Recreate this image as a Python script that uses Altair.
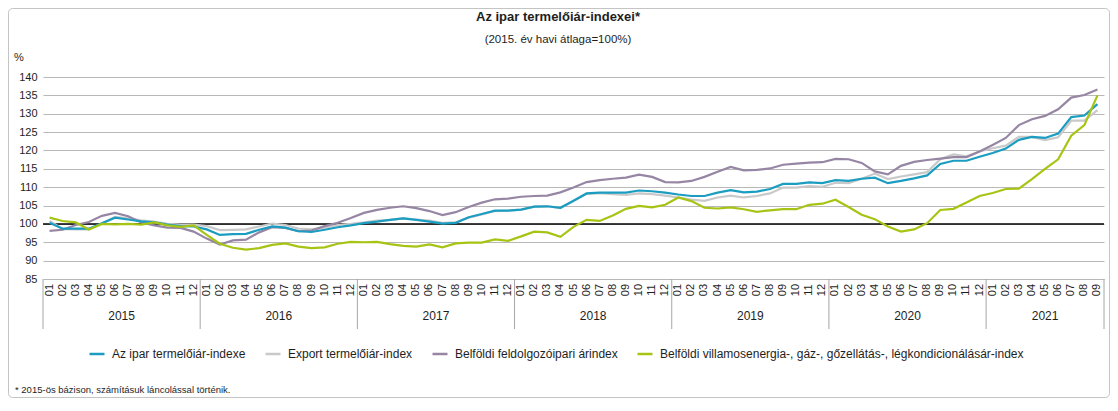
import altair as alt
import pandas as pd

years = ["2015", "2016", "2017", "2018", "2019", "2020", "2021"]
months_per_year = [12, 12, 12, 12, 12, 12, 9]
month_labels = ["01", "02", "03", "04", "05", "06", "07", "08", "09", "10", "11", "12"]

series_names = [
    "Az ipar termelőiár-indexe",
    "Export termelőiár-index",
    "Belföldi feldolgozóipari árindex",
    "Belföldi villamosenergia-, gáz-, gőzellátás-, légkondicionálásár-index",
]
colors = ["#1b9cc1", "#c9c9c9", "#9686a4", "#a6c414"]

ipar = [
    100.3, 98.7, 98.7, 98.7, 100.2, 101.7, 101.2, 100.7, 100.4, 99.8, 99.4, 99.3,
    98.5, 97.0, 97.2, 97.3, 98.4, 99.3, 99.0, 98.0, 97.8, 98.4, 99.1, 99.6,
    100.2, 100.6, 101.1, 101.5, 101.1, 100.6, 100.1, 100.3, 101.8, 102.7, 103.6, 103.6,
    103.9, 104.7, 104.8, 104.4, 106.3, 108.3, 108.5, 108.5, 108.5, 109.1, 108.9, 108.5,
    108.0, 107.6, 107.6, 108.5, 109.2, 108.6, 108.8, 109.5, 110.9, 110.9, 111.3, 111.1,
    111.9, 111.7, 112.3, 112.6, 111.1, 111.7, 112.4, 113.2, 116.3, 117.2, 117.2, 118.3,
    119.3, 120.5, 122.9, 123.7, 123.4, 124.6, 129.1, 129.5, 132.6,
]
export = [
    100.8, 98.6, 98.5, 98.5, 100.1, 101.9, 101.5, 101.0, 100.6, 100.0, 99.8, 99.8,
    99.4, 98.3, 98.4, 98.5, 99.3, 100.1, 99.7, 98.7, 98.5, 99.0, 99.7, 100.0,
    100.4, 100.9, 101.1, 101.5, 101.2, 100.9, 100.3, 100.4, 101.7, 102.6, 103.5, 103.6,
    103.9, 104.7, 104.8, 104.3, 106.2, 108.2, 108.4, 108.1, 107.9, 108.3, 108.1, 107.7,
    107.2, 106.6, 106.3, 107.2, 107.7, 107.2, 107.6, 108.3, 109.9, 109.9, 110.3, 110.1,
    111.2, 111.1, 112.3, 113.7, 112.2, 112.9, 113.5, 114.1, 117.6, 118.9, 118.4, 119.7,
    120.6, 121.3, 123.7, 123.7, 122.8, 123.6, 128.1, 128.1, 131.0,
]
feldolgozo = [
    98.1, 98.4, 99.7, 100.5, 102.2, 103.0, 102.1, 100.4, 99.6, 99.0, 98.9, 97.9,
    96.0, 94.4, 95.5, 95.7, 97.7, 99.1, 98.9, 98.0, 98.2, 99.4, 100.3, 101.6,
    103.0, 103.8, 104.4, 104.8, 104.3, 103.5, 102.4, 103.2, 104.6, 105.8, 106.7, 106.9,
    107.4, 107.6, 107.7, 108.6, 109.9, 111.4, 111.9, 112.3, 112.6, 113.4, 112.8, 111.4,
    111.3, 111.7, 112.8, 114.2, 115.5, 114.6, 114.7, 115.1, 116.1, 116.4, 116.7, 116.8,
    117.7, 117.6, 116.6, 114.3, 113.5, 115.8, 116.9, 117.4, 117.8, 118.2, 118.2, 119.7,
    121.5, 123.4, 126.9, 128.5, 129.4, 131.2, 134.4, 135.1, 136.6,
]
energia = [
    101.7, 100.8, 100.4, 98.5, 100.0, 99.9, 100.0, 99.8, 100.4, 99.6, 99.2, 99.6,
    97.0, 94.6, 93.5, 93.0, 93.4, 94.3, 94.7, 93.8, 93.4, 93.6, 94.6, 95.1,
    95.0, 95.1, 94.5, 94.0, 93.8, 94.4, 93.6, 94.7, 94.9, 94.9, 95.8, 95.4,
    96.6, 97.9, 97.7, 96.5, 99.2, 101.1, 100.8, 102.3, 104.1, 104.9, 104.5, 105.2,
    107.2, 106.2, 104.4, 104.2, 104.5, 104.0, 103.3, 103.7, 104.0, 104.0, 105.2, 105.5,
    106.6, 104.6, 102.5, 101.3, 99.3, 97.9, 98.5, 100.2, 103.8, 104.1, 105.8, 107.6,
    108.4, 109.5, 109.6, 112.2, 115.0, 117.6, 124.0, 126.9, 135.0,
]
series_values = [ipar, export, feldolgozo, energia]

# ---- tables built from the arrays ----
month_rows = []
t = 0
for y, n in zip(years, months_per_year):
    for m in range(n):
        month_rows.append({"t": t, "label": month_labels[m], "year": y})
        t += 1
n_months = t
df_months = pd.DataFrame(month_rows)

line_rows = []
for name, vals in zip(series_names, series_values):
    for i, v in enumerate(vals):
        line_rows.append({"t": i, "series": name, "value": v})
df = pd.DataFrame(line_rows)

bounds = [-0.5]
year_rows = []
start = 0
for y, n in zip(years, months_per_year):
    year_rows.append({"year": y, "mid": start + n / 2 - 0.5})
    start += n
    bounds.append(start - 0.5)
df_years = pd.DataFrame(year_rows)
df_bounds = pd.DataFrame({"b": bounds})

W, H = 1061, 202
FONT = "Liberation Sans"
TXT = "#1e1e1e"

xscale = alt.Scale(domain=[-0.5, n_months - 0.5], nice=False, zero=False)
yscale = alt.Scale(domain=[85, 140], nice=False, zero=False)

x_axis = alt.Axis(
    values=[i - 0.5 for i in range(n_months + 1)],
    labels=False, ticks=True, tickSize=22, tickColor="#a6a6a6", tickWidth=1,
    domain=True, domainColor="#333333", domainWidth=1, grid=False, title=None,
)
y_axis = alt.Axis(
    values=list(range(85, 141, 5)), grid=True, gridColor="#b8b8b8", gridWidth=1,
    ticks=False, tickSize=0, domain=False, labelPadding=6, title=None,
    labelFontSize=11, labelColor=TXT, labelFont=FONT,
)
legend = alt.Legend(
    orient="none", legendX=45, legendY=268, direction="horizontal", title=None,
    symbolType="stroke", symbolStrokeWidth=2.5, symbolSize=225,
    labelFontSize=12, labelFont=FONT, labelColor=TXT, columnPadding=14,
    labelOffset=6, labelLimit=700,
)
color = alt.Color(
    "series:N", scale=alt.Scale(domain=series_names, range=colors), legend=legend
)

one = alt.Data(values=[{"k": 1}])

frame = alt.Chart(one).mark_rect(
    fillOpacity=0, fill="white", stroke="#c4c4c4", strokeWidth=1, cornerRadius=4
).encode(
    x=alt.value(-34.5), x2=alt.value(W + 5.5), y=alt.value(-68.5), y2=alt.value(H + 118.5)
)

ref = alt.Chart(alt.Data(values=[{"v": 100}])).mark_rule(
    color="#000000", strokeWidth=1.5
).encode(y=alt.Y("v:Q", scale=yscale, axis=y_axis), x=alt.value(0), x2=alt.value(W))

draw_order = [1, 2, 0, 3]
lines = []
for k in draw_order:
    lines.append(
        alt.Chart(df).transform_filter(alt.datum.series == series_names[k])
        .mark_line(strokeWidth=2.2, interpolate="linear")
        .encode(
            x=alt.X("t:Q", scale=xscale, axis=x_axis),
            y=alt.Y("value:Q", scale=yscale, axis=y_axis),
            color=color,
        )
    )

month_text = alt.Chart(df_months).mark_text(
    angle=270, align="center", baseline="middle", fontSize=11, color=TXT, font=FONT
).encode(x=alt.X("t:Q", scale=xscale, axis=None), y=alt.value(H + 11), text="label:N")

year_rules = alt.Chart(df_bounds).mark_rule(color="#a6a6a6", strokeWidth=1).encode(
    x=alt.X("b:Q", scale=xscale, axis=None), y=alt.value(H), y2=alt.value(H + 50)
)

year_text = alt.Chart(df_years).mark_text(
    align="center", baseline="middle", fontSize=12, color=TXT, font=FONT
).encode(x=alt.X("mid:Q", scale=xscale, axis=None), y=alt.value(H + 37), text="year:N")

title = alt.Chart(one).mark_text(
    text="Az ipar termelőiár-indexei*", fontSize=13, fontWeight="bold",
    align="center", baseline="middle", color=TXT, font=FONT
).encode(x=alt.value(515), y=alt.value(-60))

subtitle = alt.Chart(one).mark_text(
    text="(2015. év havi átlaga=100%)", fontSize=11.5,
    align="center", baseline="middle", color=TXT, font=FONT
).encode(x=alt.value(515), y=alt.value(-37))

pct = alt.Chart(one).mark_text(
    text="%", fontSize=11, align="left", baseline="middle", color=TXT, font=FONT
).encode(x=alt.value(-29), y=alt.value(-19))

footnote = alt.Chart(one).mark_text(
    text="* 2015-ös bázison, számításuk láncolással történik.", fontSize=9.5,
    align="left", baseline="middle", color=TXT, font=FONT
).encode(x=alt.value(-28), y=alt.value(313))

chart = alt.layer(
    frame, ref, *lines, month_text, year_rules, year_text, title, subtitle, pct, footnote
).properties(
    width=W, height=H,
    padding={"left": 35, "top": 69, "right": 6, "bottom": 120},
    autosize=alt.AutoSizeParams(type="none"),
).configure(font=FONT).configure_view(stroke=None)

chart.save("out.html", embed_options={"renderer": "svg", "actions": False})
